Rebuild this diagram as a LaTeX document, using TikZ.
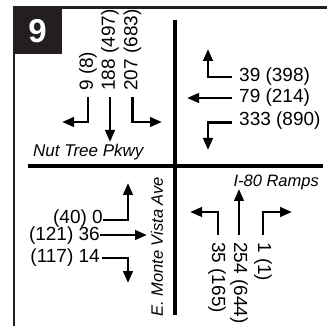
\documentclass[tikz,border=0pt]{standalone}
\usepackage{fontspec}
\setmainfont{Liberation Sans}
\usetikzlibrary{arrows.meta}
\definecolor{frm}{HTML}{231F20}
\begin{document}
\begin{tikzpicture}[x=1pt,y=-1pt,
  lbl/.style={inner sep=0pt, font=\fontsize{19}{19}\selectfont},
  street/.style={inner sep=0pt, font=\fontsize{16.5}{16.5}\selectfont\itshape},
  mv/.style={line width=2.6pt, -{Triangle[length=12pt,width=9.5pt]}},
  road/.style={line width=4pt},
  frameline/.style={line width=2.2pt, draw=frm}]
\useasboundingbox (0,0) rectangle (327,326);
% frame and number box
\fill[frm] (13,6.5) rectangle (62,54);
\draw[frameline] (14,326) -- (14,7.5) -- (327,7.5);
\node[text=white, inner sep=0pt, font=\bfseries\fontsize{33}{33}\selectfont] (num) at (37.5,31) {9};
% roads
\coordinate (hW) at (28,166.5);
\coordinate (hE) at (323,166.5);
\coordinate (vN) at (174.5,20);
\coordinate (vS) at (174.5,315);
\draw[road] (hW) -- (hE);
\draw[road] (vN) -- (vS);
% street names
\node[street, anchor=west, font=\fontsize{17}{17}\selectfont\itshape] (nut) at (33,152) {Nut Tree Pkwy};
\node[street, anchor=east] (i80) at (319,182) {I-80 Ramps};
\node[street, rotate=90, anchor=west] (emv) at (157,317) {E. Monte Vista Ave};
% southbound
\node[lbl, rotate=90, anchor=west] (sbL) at (88,91) {9 (8)};
\node[lbl, rotate=90, anchor=west] (sbT) at (110,91) {188 (497)};
\node[lbl, rotate=90, anchor=west] (sbR) at (132.5,91) {207 (683)};
\coordinate (sbL0) at (88,97);  \coordinate (sbL1) at (88,122);  \coordinate (sbL2) at (62,122);
\coordinate (sbT0) at (110,97); \coordinate (sbT1) at (110,142);
\coordinate (sbR0) at (132.5,97); \coordinate (sbR1) at (132.5,122); \coordinate (sbR2) at (162,122);
\draw[mv] (sbL0) -- (sbL1) -- (sbL2);
\draw[mv] (sbT0) -- (sbT1);
\draw[mv] (sbR0) -- (sbR1) -- (sbR2);
% westbound
\node[lbl, anchor=west] (wbL) at (239,77) {39 (398)};
\node[lbl, anchor=west] (wbT) at (239,98) {79 (214)};
\node[lbl, anchor=west] (wbR) at (239,121) {333 (890)};
\coordinate (wbL0) at (232,77);  \coordinate (wbL1) at (208,77);  \coordinate (wbL2) at (208,49);
\coordinate (wbT0) at (232,98);  \coordinate (wbT1) at (187,98);
\coordinate (wbR0) at (232,122.5); \coordinate (wbR1) at (208,122.5); \coordinate (wbR2) at (208,150);
\draw[mv] (wbL0) -- (wbL1) -- (wbL2);
\draw[mv] (wbT0) -- (wbT1);
\draw[mv] (wbR0) -- (wbR1) -- (wbR2);
% eastbound
\node[lbl, anchor=east] (ebL) at (103,218.5) {(40) 0};
\node[lbl, anchor=east] (ebT) at (100,236) {(121) 36};
\node[lbl, anchor=east] (ebR) at (100,257.5) {(117) 14};
\coordinate (ebL1) at (128,220); \coordinate (ebL2) at (128,183);
\coordinate (ebT0) at (100,235); \coordinate (ebT1) at (147,235);
\coordinate (ebR0) at (102,258); \coordinate (ebR1) at (128,258); \coordinate (ebR2) at (128,283);
\draw[mv] (ebL.east |- ebL1) -- (ebL1) -- (ebL2);
\draw[mv] (ebT0) -- (ebT1);
\draw[mv] (ebR0) -- (ebR1) -- (ebR2);
% northbound
\node[lbl, rotate=-90, anchor=west] (nbL) at (217,242) {35 (165)};
\node[lbl, rotate=-90, anchor=west] (nbT) at (239,242) {254 (644)};
\node[lbl, rotate=-90, anchor=west] (nbR) at (263,242) {1 (1)};
\coordinate (nbL0) at (218,235); \coordinate (nbL1) at (218,212); \coordinate (nbL2) at (190,212);
\coordinate (nbT0) at (239,235); \coordinate (nbT1) at (239,189);
\coordinate (nbR0) at (263,235); \coordinate (nbR1) at (263,212); \coordinate (nbR2) at (292,212);
\draw[mv] (nbL0) -- (nbL1) -- (nbL2);
\draw[mv] (nbT0) -- (nbT1);
\draw[mv] (nbR0) -- (nbR1) -- (nbR2);
\end{tikzpicture}
\end{document}
